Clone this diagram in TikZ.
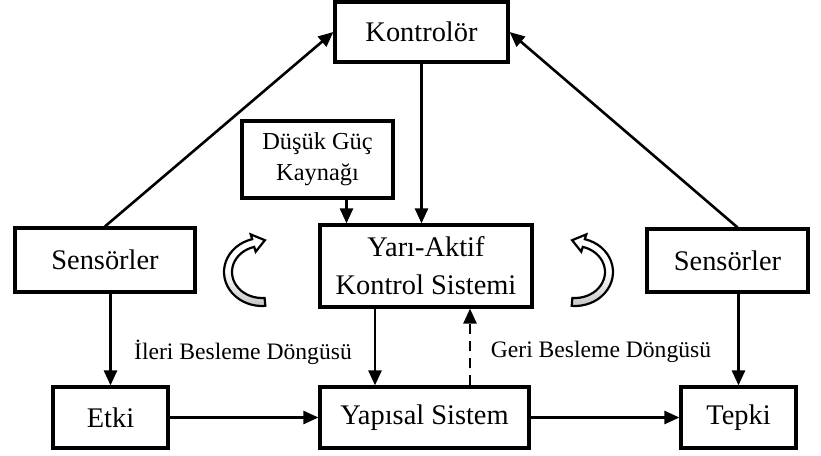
\documentclass[tikz,border=0pt]{standalone}
\usepackage{fontspec}
\setmainfont{Liberation Serif}
\usetikzlibrary{arrows.meta}

\begin{document}
\begin{tikzpicture}[x=0.5pt,y=-0.5pt,
  box/.style={draw, line width=1.6pt, inner sep=0pt, align=center, font=\fontsize{14.2pt}{19pt}\selectfont},
  arr/.style={line width=1.3pt, -{Triangle[length=7.5pt,width=6.5pt]}},
  lbl/.style={font=\fontsize{11.8pt}{14pt}\selectfont},
  loopband/.style={draw, line width=1.1pt, top color=white, bottom color=gray!45, middle color=white}]
\useasboundingbox (0,0) rectangle (821,456);
\node[box, minimum width=86.5pt, minimum height=30pt] (kont) at (421.5,32) {Kontrolör};
\node[box, minimum width=75.5pt, minimum height=38.5pt, font=\fontsize{12.2pt}{15.5pt}\selectfont] (dusuk) at (317.5,159.5) {Düşük Güç\\Kaynağı};
\node[box, minimum width=106pt, minimum height=41pt] (yari) at (426,266) {Yarı-Aktif\\Kontrol Sistemi};
\node[box, minimum width=90pt, minimum height=32pt] (sensl) at (105,260) {Sensörler};
\node[box, minimum width=80.5pt, minimum height=31.5pt] (sensr) at (727.5,260.5) {Sensörler};
\node[box, minimum width=57.5pt, minimum height=30.5pt] (etki) at (110.5,417.5) {Etki};
\node[box, minimum width=104.5pt, minimum height=30.5pt] (yapi) at (424.5,417.5) {Yapısal Sistem};
\node[box, minimum width=57.5pt, minimum height=30.5pt] (tepki) at (738.5,417.5) {Tepki};
\node[lbl] (ileri) at (243,352) {İleri Besleme Döngüsü};
\node[lbl] (geri) at (601,352) {Geri Besleme Döngüsü};
% sensors up to the controller
\draw[arr] (sensl.north) -- (kont.west);
\draw[arr] ([xshift=5pt]sensr.north) -- (kont.east);
\draw[arr] (kont.south) -- (kont.south |- yari.north);
\draw[arr] ([xshift=14.5pt]dusuk.south) -- ([xshift=14.5pt]dusuk.south |- yari.north);
% down to the bottom row
\draw[arr] (etki.north |- sensl.south) -- (etki.north);
\draw[arr] (tepki.north |- sensr.south) -- (tepki.north);
\draw[arr] ([xshift=-25.5pt]yari.south) -- ([xshift=-25.5pt]yari.south |- yapi.north);
\draw[arr, dash pattern=on 5pt off 3.5pt] ([xshift=22.75pt]yapi.north) -- ([xshift=22.75pt]yapi.north |- yari.south);
\draw[arr] (etki.east) -- (yapi.west);
\draw[arr] (yapi.east) -- (tepki.west);
% loop arrows
\path[loopband] plot[domain=85:255, variable=\t] ({262+38*cos(\t)},{272+34*sin(\t)})
  -- (250.7,234.4) -- (264.9,240.2) -- (255.7,251.7)
  -- plot[domain=255:85, variable=\t] ({262+30*cos(\t)},{272+26*sin(\t)}) -- cycle;
\path[loopband] plot[domain=85:255, variable=\t] ({575-38*cos(\t)},{272+34*sin(\t)})
  -- (586.3,234.4) -- (572.1,240.2) -- (581.3,251.7)
  -- plot[domain=255:85, variable=\t] ({575-30*cos(\t)},{272+26*sin(\t)}) -- cycle;
\end{tikzpicture}
\end{document}
